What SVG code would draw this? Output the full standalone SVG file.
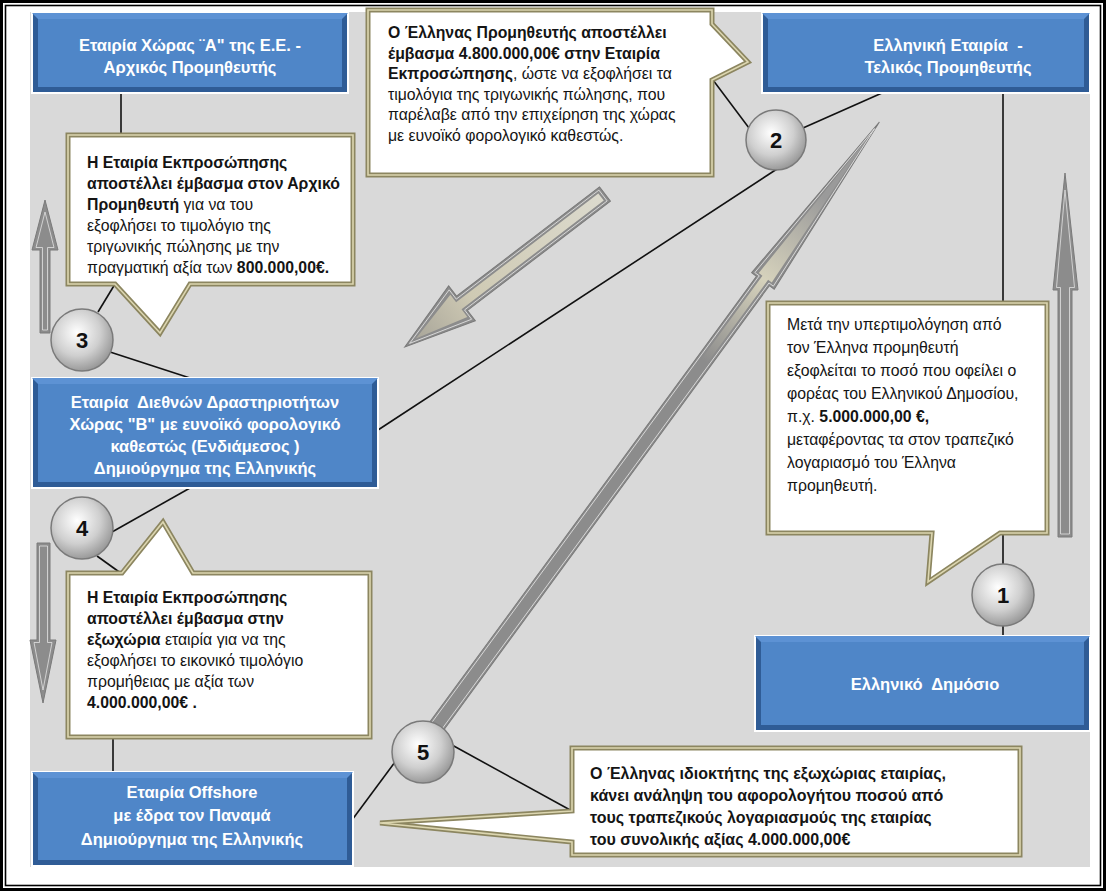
<svg xmlns="http://www.w3.org/2000/svg" xmlns:xlink="http://www.w3.org/1999/xlink" width="1106" height="891" viewBox="0 0 1106 891">
<style>
.t{font-family:"Liberation Sans",Arial,sans-serif;font-size:15.8px;fill:#141414;white-space:pre}
.b{font-weight:bold}
.w{font-family:"Liberation Sans",Arial,sans-serif;font-size:16.5px;font-weight:bold;fill:#ffffff;text-anchor:middle;white-space:pre}
.n{font-family:"Liberation Sans",Arial,sans-serif;font-size:22px;font-weight:bold;fill:#111;text-anchor:middle}
.bx{fill:#2f5c96;stroke:#ffffff;stroke-width:2}
.bt{fill:#5d92d4}
.bi{fill:#4f86c8}
.co{fill:#ffffff;stroke:#8c8660;stroke-width:5;stroke-linejoin:miter}
.co2{fill:none;stroke:#dcd6b0;stroke-width:1.6;stroke-linejoin:miter}
.ln{stroke:#111;stroke-width:1.6;fill:none}
.ci{fill:url(#cg);stroke:#7a7a7a;stroke-width:1.5}
.ar{fill:#8c8c8c;stroke:#7a7a7a;stroke-width:1}
.ai{fill:none;stroke:#e2e2e2;stroke-width:0.8}
</style>
<defs>
<radialGradient id="cg" cx="0.42" cy="0.38" r="0.68">
<stop offset="0" stop-color="#ffffff"/>
<stop offset="0.55" stop-color="#cfcfcf"/>
<stop offset="1" stop-color="#8e8e8e"/>
</radialGradient>
<linearGradient id="gl" x1="0" y1="0" x2="1" y2="0">
<stop offset="0" stop-color="#8c8c8c"/>
<stop offset="0.62" stop-color="#8c8c8c"/>
<stop offset="0.76" stop-color="#d6d2bc"/>
<stop offset="0.9" stop-color="#9a9a9a"/>
</linearGradient>
<linearGradient id="gs" x1="0" y1="0" x2="1" y2="0">
<stop offset="0" stop-color="#dcdacd"/>
<stop offset="0.7" stop-color="#cfcab4"/>
<stop offset="1" stop-color="#a9a69a"/>
</linearGradient>
<path id="p2" d="M368,10 H712 V24 L748,62 L712,80 V175 H368 Z"/>
<path id="p3" d="M68,135 H353 V284 H190 L160,333 L115,284 H68 Z"/>
<path id="p4" d="M68,573 H122 L163,522 L193,573 H370 V737 H68 Z"/>
<path id="p1" d="M768,303 H1047 V533 H1000 L928,582 L932,533 H768 Z"/>
<path id="p5" d="M572,748 H1020 V855 H572 V842 L380,823 L572,811 Z"/>
</defs>

<rect x="0" y="0" width="1106" height="891" fill="#ffffff"/>
<rect x="1.5" y="1.5" width="1103" height="888" fill="none" stroke="#000" stroke-width="3"/>
<rect x="5.5" y="5.5" width="1095" height="880" fill="none" stroke="#000" stroke-width="1.6"/>
<rect x="30" y="12" width="1060" height="855" fill="#d9d9d9"/>

<g id="arrows">
<polygon class="ar" points="40,333 40,250 32,250 45,200 58,250 50,250 50,333"/>
<polygon class="ai" points="42.5,330 42.5,247.5 36,247.5 45,212 54,247.5 47.5,247.5 47.5,330"/>
<polygon class="ar" points="37,543 50,543 50,640 56,640 43,703 30,640 37,640"/>
<polygon class="ai" points="39.5,546 47.5,546 47.5,642.5 52,642.5 43,690 34,642.5 39.5,642.5"/>
<polygon class="ar" points="1058,537 1058,290 1053,290 1065,173 1078,290 1072,290 1072,537"/>
<polygon class="ai" points="1060.5,534 1060.5,287.5 1056.5,287.5 1065,190 1074.5,287.5 1069.5,287.5 1069.5,534"/>
<g transform="translate(436,727) rotate(-53.76)">
<polygon class="ar" points="0,-8 553,-8 553,-14 750,0 553,14 553,8 0,8"/>
<polygon fill="url(#gl)" points="4,-3.5 557,-3.5 557,-8 729,0 557,8 557,3.5 4,3.5"/>
<polygon class="ai" points="2,-6 555,-6 555,-11.5 742,0 555,11.5 555,6 2,6"/>
</g>
<g transform="translate(605,194) rotate(142.6)">
<polygon class="ar" points="0,-9 180,-9 180,-22 252,0 180,22 180,9 0,9"/>
<polygon fill="url(#gs)" points="5,-4.5 184,-4.5 184,-14 238,0 184,14 184,4.5 5,4.5"/>
<polygon class="ai" points="2.5,-6.8 182,-6.8 182,-18.5 246,0 182,18.5 182,6.8 2.5,6.8"/>
</g>
</g>

<g id="connectors">
<line class="ln" x1="121" y1="93" x2="121" y2="135"/>
<line class="ln" x1="1003" y1="93" x2="1003" y2="303"/>
<line class="ln" x1="713" y1="80" x2="749" y2="128"/>
<line class="ln" x1="803" y1="128" x2="882" y2="93"/>
<line class="ln" x1="777" y1="169" x2="378" y2="430"/>
<line class="ln" x1="98" y1="312" x2="115" y2="284"/>
<line class="ln" x1="110" y1="352" x2="190" y2="378"/>
<line class="ln" x1="190" y1="488" x2="112" y2="532"/>
<line class="ln" x1="97" y1="556" x2="122" y2="574"/>
<line class="ln" x1="113" y1="737" x2="113" y2="772"/>
<line class="ln" x1="1003" y1="533" x2="1003" y2="636"/>
<line class="ln" x1="352" y1="820" x2="395" y2="762"/>
<line class="ln" x1="452" y1="745" x2="572" y2="811"/>
</g>

<g id="callout-2">
<use xlink:href="#p2" class="co"/><use xlink:href="#p2" class="co2"/>
<text class="t" x="388" y="38"><tspan class="b">Ο Έλληνας Προμηθευτής αποστέλλει</tspan></text>
<text class="t" x="388" y="58.5"><tspan class="b">έμβασμα 4.800.000,00€ στην Εταιρία</tspan></text>
<text class="t" x="388" y="79"><tspan class="b">Εκπροσώπησης</tspan>, ώστε να εξοφλήσει τα</text>
<text class="t" x="388" y="99.5">τιμολόγια της τριγωνικής πώλησης, που</text>
<text class="t" x="388" y="120">παρέλαβε από την επιχείρηση της χώρας</text>
<text class="t" x="388" y="140.5">με ευνοϊκό φορολογικό καθεστώς.</text>
</g>

<g id="callout-3">
<use xlink:href="#p3" class="co"/><use xlink:href="#p3" class="co2"/>
<text class="t b" x="87" y="168">Η Εταιρία Εκπροσώπησης</text>
<text class="t b" x="87" y="189">αποστέλλει έμβασμα στον Αρχικό</text>
<text class="t" x="87" y="210"><tspan class="b">Προμηθευτή</tspan> για να του</text>
<text class="t" x="87" y="231">εξοφλήσει το τιμολόγιο της</text>
<text class="t" x="87" y="252">τριγωνικής πώλησης με την</text>
<text class="t" x="87" y="273">πραγματική αξία των <tspan class="b">800.000,00€.</tspan></text>
</g>

<g id="callout-4">
<use xlink:href="#p4" class="co"/><use xlink:href="#p4" class="co2"/>
<text class="t b" x="87" y="603">Η Εταιρία Εκπροσώπησης</text>
<text class="t b" x="87" y="624">αποστέλλει έμβασμα στην</text>
<text class="t" x="87" y="645"><tspan class="b">εξωχώρια</tspan> εταιρία για να της</text>
<text class="t" x="87" y="666">εξοφλήσει το εικονικό τιμολόγιο</text>
<text class="t" x="87" y="687">προμήθειας με αξία των</text>
<text class="t b" x="87" y="708">4.000.000,00€ .</text>
</g>

<g id="callout-1">
<use xlink:href="#p1" class="co"/><use xlink:href="#p1" class="co2"/>
<text class="t" x="787" y="330">Μετά την υπερτιμολόγηση από</text>
<text class="t" x="787" y="353">τον Έλληνα προμηθευτή</text>
<text class="t" x="787" y="376">εξοφλείται το ποσό που οφείλει ο</text>
<text class="t" x="787" y="399">φορέας του Ελληνικού Δημοσίου,</text>
<text class="t" x="787" y="422">π.χ. <tspan class="b">5.000.000,00 €,</tspan></text>
<text class="t" x="787" y="445">μεταφέροντας τα στον τραπεζικό</text>
<text class="t" x="787" y="468">λογαριασμό του Έλληνα</text>
<text class="t" x="787" y="491">προμηθευτή.</text>
</g>

<g id="callout-5">
<use xlink:href="#p5" class="co"/><use xlink:href="#p5" class="co2"/>
<text class="t b" x="590" y="779" style="font-size:16px">Ο Έλληνας ιδιοκτήτης της εξωχώριας εταιρίας,</text>
<text class="t b" x="590" y="801" style="font-size:16px">κάνει ανάληψη του αφορολογήτου ποσού από</text>
<text class="t b" x="590" y="823" style="font-size:16px">τους τραπεζικούς λογαριασμούς της εταιρίας</text>
<text class="t b" x="590" y="845" style="font-size:16px">του συνολικής αξίας 4.000.000,00€</text>
</g>

<g id="box-a">
<rect class="bx" x="32" y="13" width="316" height="80"/>
<polygon class="bt" points="32,13 348,13 342,19 38,19"/>
<rect class="bi" x="38" y="19" width="304" height="68"/>
<text class="w" x="190" y="51">Εταιρία Χώρας ¨Α" της Ε.Ε. -</text>
<text class="w" x="190" y="73">Αρχικός Προμηθευτής</text>
</g>

<g id="box-greek">
<rect class="bx" x="762" y="13" width="328" height="80"/>
<polygon class="bt" points="762,13 1090,13 1084,19 768,19"/>
<rect class="bi" x="768" y="19" width="316" height="68"/>
<text class="w" x="948" y="51">Ελληνική Εταιρία  -</text>
<text class="w" x="948" y="73">Τελικός Προμηθευτής</text>
</g>

<g id="box-b">
<rect class="bx" x="32" y="378" width="346" height="110"/>
<polygon class="bt" points="32,378 378,378 372,384 38,384"/>
<rect class="bi" x="38" y="384" width="334" height="98"/>
<text class="w" x="205" y="408">Εταιρία  Διεθνών Δραστηριοτήτων</text>
<text class="w" x="205" y="430">Χώρας "Β" με ευνοϊκό φορολογικό</text>
<text class="w" x="205" y="452">καθεστώς (Ενδιάμεσος )</text>
<text class="w" x="205" y="474">Δημιούργημα της Ελληνικής</text>
</g>

<g id="box-offshore">
<rect class="bx" x="32" y="772" width="321" height="94"/>
<polygon class="bt" points="32,772 353,772 347,778 38,778"/>
<rect class="bi" x="38" y="778" width="309" height="82"/>
<text class="w" x="192" y="798">Εταιρία Offshore</text>
<text class="w" x="192" y="821">με έδρα τον Παναμά</text>
<text class="w" x="192" y="845">Δημιούργημα της Ελληνικής</text>
</g>

<g id="box-public">
<rect class="bx" x="755" y="636" width="335" height="95"/>
<polygon class="bt" points="755,636 1090,636 1084,642 761,642"/>
<rect class="bi" x="761" y="642" width="323" height="83"/>
<text class="w" x="925" y="690">Ελληνικό  Δημόσιο</text>
</g>

<g id="step-1"><circle class="ci" cx="1003" cy="595" r="31"/><text class="n" x="1003" y="603">1</text></g>
<g id="step-2"><circle class="ci" cx="776" cy="140" r="30"/><text class="n" x="776" y="148">2</text></g>
<g id="step-3"><circle class="ci" cx="82" cy="340" r="31"/><text class="n" x="82" y="348">3</text></g>
<g id="step-4"><circle class="ci" cx="82" cy="528" r="31"/><text class="n" x="82" y="536">4</text></g>
<g id="step-5"><circle class="ci" cx="423" cy="752" r="31"/><text class="n" x="423" y="760">5</text></g>
</svg>
